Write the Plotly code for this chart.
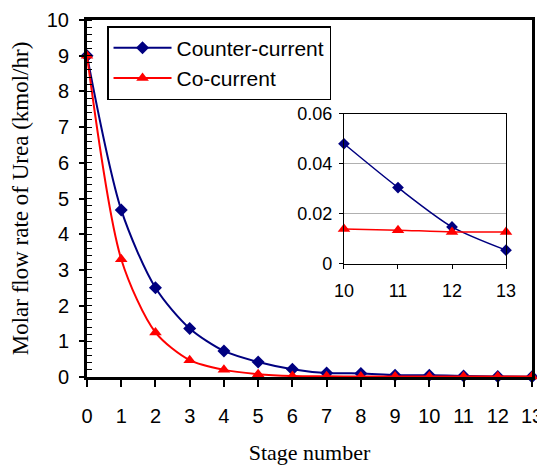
import plotly.graph_objects as go

stages = list(range(14))
counter_current = [9.0, 4.68, 2.5, 1.36, 0.73, 0.42, 0.22, 0.11, 0.1, 0.05, 0.048, 0.031, 0.015, 0.005]
co_current = [9.0, 3.3, 1.25, 0.47, 0.2, 0.08, 0.03, 0.02, 0.015, 0.015, 0.014, 0.0135, 0.0128, 0.0128]

inset_stages = [10, 11, 12, 13]
inset_counter = [0.048, 0.0305, 0.0148, 0.0055]
inset_co = [0.014, 0.0135, 0.0128, 0.0128]

x_ticks = list(range(14))
y_ticks = list(range(11))
inset_y_ticks = [0, 0.02, 0.04, 0.06]
inset_y_labels = ["0", "0.02", "0.04", "0.06"]

NAVY = "#000080"
RED = "#ff0000"
SANS = "Liberation Sans, Arial, sans-serif"
SERIF = "Liberation Serif, Times New Roman, serif"

fig = go.Figure()
fig.add_trace(go.Scatter(x=stages, y=counter_current, name="Counter-current",
                         mode="lines+markers", line=dict(color=NAVY, width=2, shape="spline", smoothing=0.8),
                         marker=dict(symbol="diamond", size=10, color=NAVY), cliponaxis=False))
fig.add_trace(go.Scatter(x=stages, y=co_current, name="Co-current",
                         mode="lines+markers", line=dict(color=RED, width=2, shape="spline", smoothing=0.8),
                         marker=dict(symbol="triangle-up", size=11, color=RED), cliponaxis=False))
fig.add_trace(go.Scatter(x=inset_stages, y=inset_counter, xaxis="x2", yaxis="y2", showlegend=False,
                         mode="lines+markers", line=dict(color=NAVY, width=1.5, shape="spline", smoothing=0.8),
                         marker=dict(symbol="diamond", size=9, color=NAVY), cliponaxis=False))
fig.add_trace(go.Scatter(x=inset_stages, y=inset_co, xaxis="x2", yaxis="y2", showlegend=False,
                         mode="lines+markers", line=dict(color=RED, width=1.5, shape="spline", smoothing=0.8),
                         marker=dict(symbol="triangle-up", size=11, color=RED), cliponaxis=False))

fig.update_layout(
    width=537, height=457,
    margin=dict(l=79, r=13, t=12, b=88),
    paper_bgcolor="white", plot_bgcolor="white",
    showlegend=True,
    legend=dict(x=0.045, y=0.983, xanchor="left", yanchor="top",
                bordercolor="black", borderwidth=1.5, bgcolor="white",
                font=dict(family=SANS, size=21, color="black"),
                tracegroupgap=0, itemwidth=58),
    xaxis=dict(range=[0, 13], tickvals=x_ticks, showgrid=False, zeroline=False, automargin=False,
               showline=True, linecolor="black", linewidth=3, mirror=True, ticklabeloverflow="allow",
               ticks="outside", ticklen=7, tickwidth=1.5, tickcolor="black", ticklabelstandoff=12,
               tickfont=dict(family=SANS, size=20, color="black"),
               title=dict(text="Stage number", font=dict(family=SERIF, size=22, color="black"), standoff=21)),
    yaxis=dict(range=[0, 10], tickvals=y_ticks, showgrid=False, zeroline=False, automargin=False,
               showline=True, linecolor="black", linewidth=3, mirror=True, ticklabeloverflow="allow",
               ticks="outside", ticklen=5, tickwidth=1.5, tickcolor="black", ticklabelstandoff=6,
               minor=dict(dtick=0.2, ticks="inside", ticklen=5, tickwidth=1, tickcolor="black", showgrid=False),
               tickfont=dict(family=SANS, size=20, color="black"),
               title=dict(text="Molar flow rate of Urea (kmol/hr)", font=dict(family=SERIF, size=23, color="black"), standoff=26)),
    xaxis2=dict(domain=[0.5775, 0.9416], anchor="y2", range=[10, 13], tickvals=inset_stages, automargin=False,
                showgrid=False, zeroline=False, showline=True, linecolor="black", linewidth=1, mirror=True,
                ticks="outside", ticklen=4, tickwidth=1, tickcolor="black", ticklabelstandoff=6,
                tickfont=dict(family=SANS, size=18, color="black")),
    yaxis2=dict(domain=[0.3167, 0.7375], anchor="x2", range=[0, 0.06], tickvals=inset_y_ticks, ticktext=inset_y_labels,
                showgrid=True, gridcolor="#b0b0b0", gridwidth=1, zeroline=False, automargin=False,
                showline=True, linecolor="black", linewidth=1, mirror=True,
                ticks="outside", ticklen=4, tickwidth=1, tickcolor="black", ticklabelstandoff=3,
                tickfont=dict(family=SANS, size=18, color="black")),
)

fig.write_html("out.html")
